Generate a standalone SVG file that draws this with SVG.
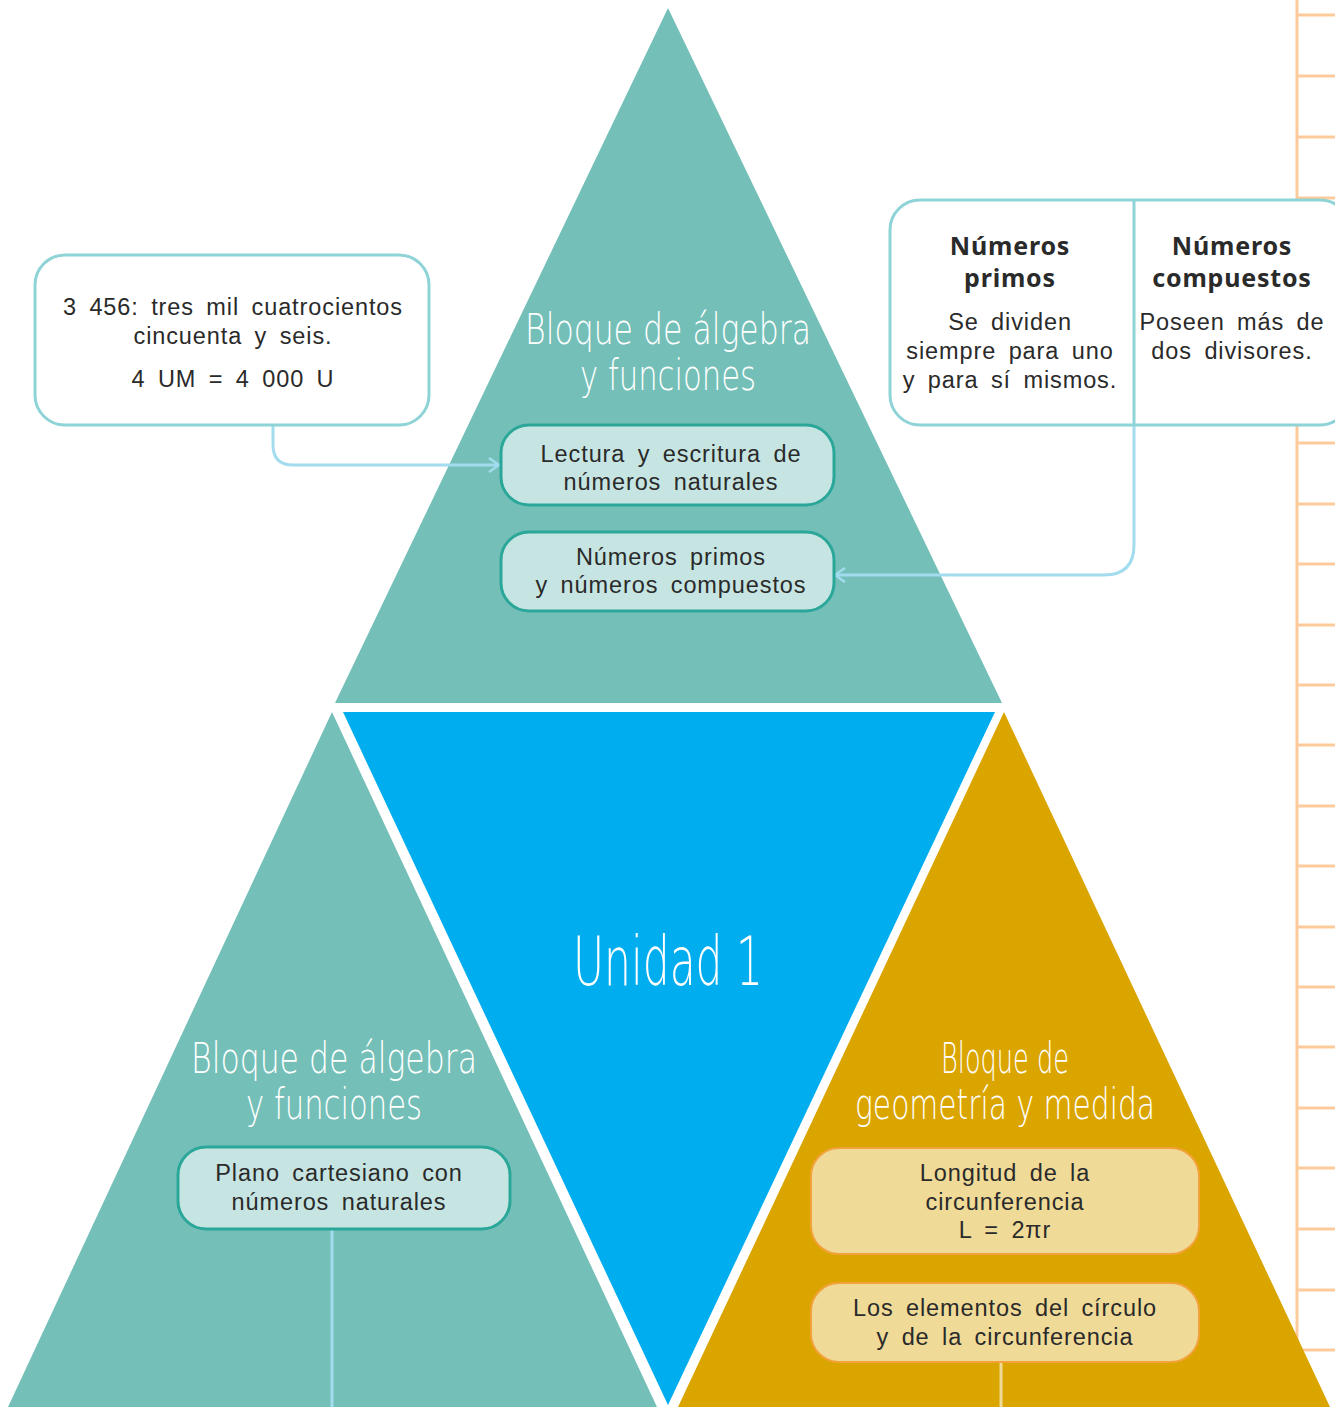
<svg xmlns="http://www.w3.org/2000/svg" width="1335" height="1407" viewBox="0 0 1335 1407">
<defs>
<style>
.ruler{stroke:#FDCB9B;stroke-width:3;fill:none}
.teal{fill:#74BFB8}
.blue{fill:#00ADEE}
.gold{fill:#DBA500}
.tbox{fill:#C6E5E2;stroke:#2BA79A;stroke-width:3}
.gbox{fill:#F0DA98;stroke:#F2A23A;stroke-width:2}
.wbox{fill:#FFFFFF;stroke:#8ED3D6;stroke-width:3}
.conn{fill:none;stroke:#A3DCEF;stroke-width:3}
.txt{font-family:"Liberation Sans","Noto Sans",sans-serif;font-size:23.5px;fill:#2A2A2A;text-anchor:middle;word-spacing:5px;letter-spacing:0.9px}
.bold{font-family:"Noto Sans","Liberation Sans",sans-serif;font-size:25px;font-weight:bold;fill:#2A2A2A;text-anchor:middle;letter-spacing:0.8px}
.title{font-family:"DejaVu Sans",sans-serif;font-weight:200;font-size:42px;fill:#FFFFFF;text-anchor:middle}
.big{font-size:68px}
</style>
<marker id="arr" viewBox="0 0 12 16" refX="11" refY="8" markerWidth="12" markerHeight="16" markerUnits="userSpaceOnUse" orient="auto">
<path d="M1,1 L11,8 L1,15" fill="none" stroke="#A3DCEF" stroke-width="2.5"/>
</marker>
</defs>
<rect width="1335" height="1407" fill="#FFFFFF"/>
<g id="ruler" class="ruler">
<line x1="1297" y1="0" x2="1297" y2="1407"/>
<path d="M1297,15H1335M1297,76H1335M1297,137H1335M1297,198H1335M1297,258H1335M1297,319H1335M1297,380H1335M1297,443H1335M1297,504H1335M1297,564H1335M1297,625H1335M1297,685H1335M1297,745H1335M1297,806H1335M1297,866H1335M1297,927H1335M1297,987H1335M1297,1047H1335M1297,1108H1335M1297,1168H1335M1297,1229H1335M1297,1290H1335M1297,1350H1335"/>
</g>
<g id="tri-top">
<polygon class="teal" points="668,8 1002,703 335,703"/>
<text class="title" x="668" y="344" textLength="286" lengthAdjust="spacingAndGlyphs">Bloque de álgebra</text>
<text class="title" x="668" y="390" textLength="176" lengthAdjust="spacingAndGlyphs">y funciones</text>
</g>
<g id="tri-center">
<polygon class="blue" points="343,712 995,712 668,1405"/>
<text class="title big" x="668" y="985" textLength="190" lengthAdjust="spacingAndGlyphs">Unidad 1</text>
</g>
<g id="tri-left">
<polygon class="teal" points="332,712 657,1407 8,1407"/>
<text class="title" x="334" y="1073" textLength="286" lengthAdjust="spacingAndGlyphs">Bloque de álgebra</text>
<text class="title" x="334" y="1119" textLength="176" lengthAdjust="spacingAndGlyphs">y funciones</text>
</g>
<g id="tri-right">
<polygon class="gold" points="1004,712 1330,1407 678,1407"/>
<text class="title" x="1005" y="1073" textLength="128" lengthAdjust="spacingAndGlyphs">Bloque de</text>
<text class="title" x="1005" y="1119" textLength="300" lengthAdjust="spacingAndGlyphs">geometría y medida</text>
</g>
<g id="connectors">
<path class="conn" d="M273,425 V445 Q273,465 293,465 H499" marker-end="url(#arr)"/>
<path class="conn" d="M1134,425 V545 Q1134,575 1104,575 H835" marker-end="url(#arr)"/>
<line class="conn" x1="332" y1="1229" x2="332" y2="1407"/>
<line x1="1001" y1="1363" x2="1001" y2="1407" stroke="#F0DA98" stroke-width="3"/>
</g>
<g id="box-lectura">
<rect class="tbox" x="501" y="425" width="333" height="80" rx="28"/>
<text class="txt" x="671" y="462">Lectura y escritura de</text>
<text class="txt" x="671" y="490">números naturales</text>
</g>
<g id="box-primos">
<rect class="tbox" x="501" y="532" width="333" height="79" rx="28"/>
<text class="txt" x="671" y="565">Números primos</text>
<text class="txt" x="671" y="593">y números compuestos</text>
</g>
<g id="box-plano">
<rect class="tbox" x="178" y="1147" width="332" height="82" rx="28"/>
<text class="txt" x="339" y="1181">Plano cartesiano con</text>
<text class="txt" x="339" y="1210">números naturales</text>
</g>
<g id="box-longitud">
<rect class="gbox" x="811" y="1148" width="388" height="106" rx="28"/>
<text class="txt" x="1005" y="1181">Longitud de la</text>
<text class="txt" x="1005" y="1210">circunferencia</text>
<text class="txt" x="1005" y="1238">L = 2πr</text>
</g>
<g id="box-elementos">
<rect class="gbox" x="811" y="1283" width="388" height="79" rx="28"/>
<text class="txt" x="1005" y="1316">Los elementos del círculo</text>
<text class="txt" x="1005" y="1345">y de la circunferencia</text>
</g>
<g id="box-ejemplo">
<rect class="wbox" x="35" y="255" width="394" height="170" rx="30"/>
<text class="txt" x="233" y="315">3 456: tres mil cuatrocientos</text>
<text class="txt" x="233" y="344">cincuenta y seis.</text>
<text class="txt" x="233" y="387">4 UM = 4 000 U</text>
</g>
<g id="box-definiciones">
<rect class="wbox" x="890" y="200" width="460" height="225" rx="30"/>
<line x1="1134" y1="200" x2="1134" y2="425" stroke="#8ED3D6" stroke-width="3"/>
<text class="bold" x="1010" y="255">Números</text>
<text class="bold" x="1010" y="287">primos</text>
<text class="txt" x="1010" y="330">Se dividen</text>
<text class="txt" x="1010" y="359">siempre para uno</text>
<text class="txt" x="1010" y="388">y para sí mismos.</text>
<text class="bold" x="1232" y="255">Números</text>
<text class="bold" x="1232" y="287">compuestos</text>
<text class="txt" x="1232" y="330">Poseen más de</text>
<text class="txt" x="1232" y="359">dos divisores.</text>
</g>
</svg>
